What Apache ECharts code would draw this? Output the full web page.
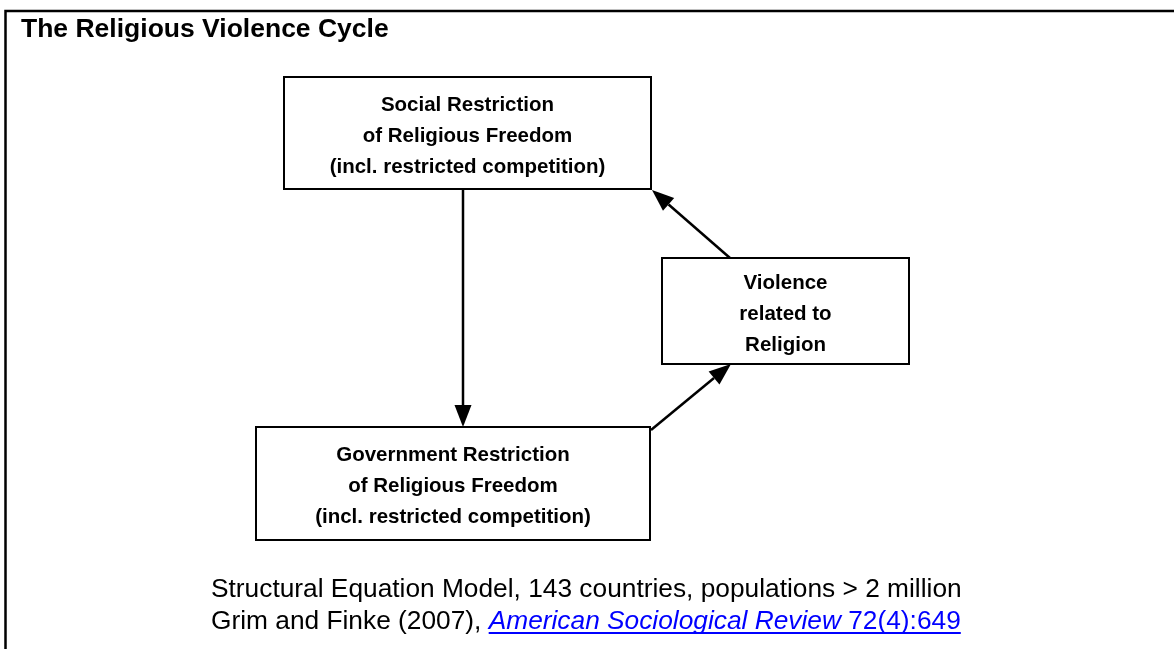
<!DOCTYPE html>
<html>
<head>
<meta charset="utf-8">
<script src="https://cdn.jsdelivr.net/npm/echarts@6/dist/echarts.min.js"></script>
<style>
    html, body { margin: 0; padding: 0; background: #fff; }
    #chart { width: 1174px; height: 649px; }
</style>
</head>
<body>
<div id="chart"></div>
<script>
// diagram boxes (coordinates in the 1174 x 649 drawing space)
var boxLabels = [
    'Social Restriction\nof Religious Freedom\n(incl. restricted competition)',
    'Government Restriction\nof Religious Freedom\n(incl. restricted competition)',
    'Violence\nrelated to\nReligion'
];
var boxLeft = [284, 256, 662];
var boxTop = [77, 427, 258];
var boxRight = [651, 650, 909];
var boxBottom = [189, 540, 364];

// arrows: start point -> end point (head at end)
var arrowFrom = [[463, 189], [730, 258], [651, 430]];
var arrowTo = [[463, 427], [652, 190], [731, 364]];

var titleText = 'The Religious Violence Cycle';
var noteLine1 = 'Structural Equation Model, 143 countries, populations > 2 million';
var noteCite = 'Grim and Finke (2007), ';
var noteJournal = 'American Sociological Review';
var noteIssue = ' 72(4):649';

(function () {
    var myChart = echarts.init(document.getElementById('chart'));
    var FONT = '"Liberation Sans", Arial, Helvetica, sans-serif';
    var noteFont = '26.3px ' + FONT;
    var noteItalic = 'italic 26.3px ' + FONT;

    var ctx = document.createElement('canvas').getContext('2d');
    function textWidth(str, font) {
        ctx.font = font;
        return ctx.measureText(str).width;
    }

    var boxData = boxLabels.map(function (v, i) {
        return [boxLeft[i], boxTop[i], boxRight[i], boxBottom[i]];
    });
    var arrowData = arrowFrom.map(function (v, i) {
        return [v[0], v[1], arrowTo[i][0], arrowTo[i][1]];
    });

    var noteX = 211;
    var citeW = textWidth(noteCite, noteFont);
    var journalW = textWidth(noteJournal, noteItalic);
    var issueW = textWidth(noteIssue, noteFont);

    var option = {
        animation: false,
        backgroundColor: '#fff',
        title: {
            text: titleText,
            left: 21,
            top: 16,
            padding: 0,
            textStyle: {
                fontFamily: FONT,
                fontSize: 26.5,
                fontWeight: 'bold',
                color: '#000'
            }
        },
        grid: { left: 0, right: 0, top: 0, bottom: 0 },
        xAxis: { type: 'value', min: 0, max: 1174, show: false },
        yAxis: { type: 'value', min: 0, max: 649, inverse: true, show: false },
        graphic: [
            {
                // frame (top and left edges)
                type: 'polyline',
                shape: { points: [[5.5, 649], [5.5, 11], [1174, 11]] },
                style: { stroke: '#000', lineWidth: 2.5, fill: null }
            },
            {
                type: 'text',
                x: noteX, y: 590,
                style: { text: noteLine1, font: noteFont, fill: '#000', verticalAlign: 'middle' }
            },
            {
                type: 'text',
                x: noteX, y: 622,
                style: { text: noteCite, font: noteFont, fill: '#000', verticalAlign: 'middle' }
            },
            {
                type: 'text',
                x: noteX + citeW, y: 622,
                style: { text: noteJournal, font: noteItalic, fill: '#0000ff', verticalAlign: 'middle' }
            },
            {
                type: 'text',
                x: noteX + citeW + journalW, y: 622,
                style: { text: noteIssue, font: noteFont, fill: '#0000ff', verticalAlign: 'middle' }
            },
            {
                // link underline
                type: 'line',
                shape: { x1: noteX + citeW, y1: 633, x2: noteX + citeW + journalW + issueW, y2: 633 },
                style: { stroke: '#0000ff', lineWidth: 2 }
            }
        ],
        series: [
            {
                type: 'custom',
                coordinateSystem: 'cartesian2d',
                data: arrowData,
                renderItem: function (params, api) {
                    var a = api.coord([api.value(0), api.value(1)]);
                    var b = api.coord([api.value(2), api.value(3)]);
                    var dx = b[0] - a[0], dy = b[1] - a[1];
                    var len = Math.sqrt(dx * dx + dy * dy);
                    var ux = dx / len, uy = dy / len;
                    var headLen = 22, headHalf = 8.5;
                    var bx = b[0] - ux * headLen, by = b[1] - uy * headLen;
                    return {
                        type: 'group',
                        children: [
                            {
                                type: 'line',
                                shape: { x1: a[0], y1: a[1], x2: bx, y2: by },
                                style: { stroke: '#000', lineWidth: 2.5 }
                            },
                            {
                                type: 'polygon',
                                shape: {
                                    points: [
                                        [b[0], b[1]],
                                        [bx - uy * headHalf, by + ux * headHalf],
                                        [bx + uy * headHalf, by - ux * headHalf]
                                    ]
                                },
                                style: { fill: '#000' }
                            }
                        ]
                    };
                }
            },
            {
                type: 'custom',
                coordinateSystem: 'cartesian2d',
                data: boxData,
                renderItem: function (params, api) {
                    var p0 = api.coord([api.value(0), api.value(1)]);
                    var p1 = api.coord([api.value(2), api.value(3)]);
                    return {
                        type: 'group',
                        children: [
                            {
                                type: 'rect',
                                shape: { x: p0[0], y: p0[1], width: p1[0] - p0[0], height: p1[1] - p0[1] },
                                style: { fill: '#fff', stroke: '#000', lineWidth: 2 }
                            },
                            {
                                type: 'text',
                                x: (p0[0] + p1[0]) / 2,
                                y: (p0[1] + p1[1]) / 2 + 3,
                                style: {
                                    text: boxLabels[params.dataIndex],
                                    font: 'bold 20.5px ' + FONT,
                                    fill: '#000',
                                    align: 'center',
                                    verticalAlign: 'middle',
                                    lineHeight: 31
                                }
                            }
                        ]
                    };
                }
            }
        ]
    };
    myChart.setOption(option);
    window.addEventListener('resize', function () {
        myChart.resize();
    });
})();
</script>
</body>
</html>
